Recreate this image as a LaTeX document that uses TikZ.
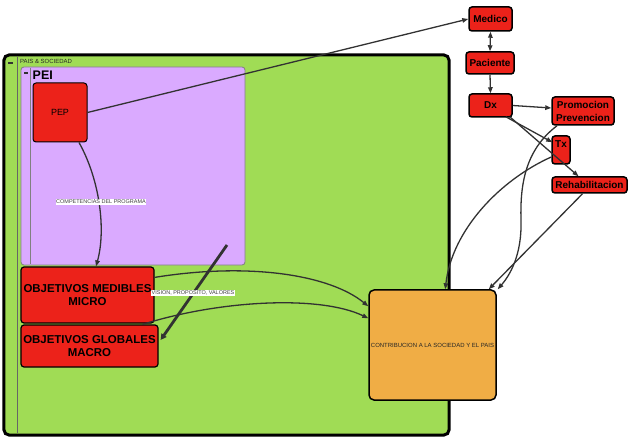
\documentclass[tikz,border=0pt]{standalone}
\usepackage{fontspec}
\setmainfont{Liberation Sans}
\usetikzlibrary{calc,arrows.meta}
\definecolor{gbg}{RGB}{160,220,85}
\definecolor{pbg}{RGB}{218,170,255}
\definecolor{rbg}{RGB}{236,34,26}
\definecolor{obg}{RGB}{240,173,69}
\definecolor{ln}{RGB}{50,50,50}
\tikzset{
  redbox/.style={draw=black, line width=1.5bp, fill=rbg, rounded corners=3bp, inner sep=0pt,
    font=\fontsize{10}{13}\selectfont\bfseries, align=center},
  objbox/.style={draw=black, line width=1.2bp, fill=rbg, rounded corners=3bp, inner sep=0pt,
    font=\fontsize{11.5}{13}\selectfont\bfseries, align=center},
  conn/.style={draw=ln, line width=1.3bp, -{Triangle[length=6bp,width=4.5bp]}},
  biconn/.style={draw=ln, line width=1.3bp, {Triangle[length=6bp,width=4.5bp]}-{Triangle[length=6bp,width=4.5bp]}},
  thickconn/.style={draw=ln, line width=2.8bp, -{Triangle[length=6bp,width=6bp]}},
  lbl/.style={fill=white, inner sep=0.6bp, font=\fontsize{5.5}{6}\selectfont, text=black!75},
  icon/.style={fill=black!80},
}
\begin{document}
\begin{tikzpicture}[x=1bp,y=-1bp]
\useasboundingbox (0,0) rectangle (640,445);
% outer container
\node[draw=black, line width=3bp, fill=gbg, rounded corners=5bp, minimum width=445bp, minimum height=380bp, inner sep=0pt] (pais) at (226.5,245) {};
\draw[black!60, line width=0.7bp] (17,57) -- (17,433);
\fill[icon] (8,62) rectangle (13,64.5);
\node[anchor=west, inner sep=0pt, font=\fontsize{6}{6}\selectfont, text=black!85] (paist) at (20,61) {PAIS \& SOCIEDAD};
% PEI container
\node[draw=black!50, line width=0.8bp, fill=pbg, rounded corners=3bp, minimum width=224bp, minimum height=198bp, inner sep=0pt] (pei) at (133,166) {};
\draw[black!50, line width=0.7bp] (30,68) -- (30,264);
\fill[icon] (24,72) rectangle (28,74.5);
\node[anchor=west, inner sep=0pt, font=\fontsize{12.5}{13}\selectfont\bfseries] (peit) at (32.5,75) {PEI};
% nodes
\node[draw=black, line width=1bp, fill=rbg, rounded corners=3bp, minimum width=54bp, minimum height=59bp, inner sep=0pt, font=\fontsize{9}{10}\selectfont] (pep) at (60,112.5) {PEP};
\node[objbox, minimum width=133bp, minimum height=56bp] (objm) at (87.5,295) {OBJETIVOS MEDIBLES\\MICRO};
\node[objbox, minimum width=137bp, minimum height=42bp] (objg) at (89.5,346) {OBJETIVOS GLOBALES\\MACRO};
\node[draw=black, line width=1.5bp, fill=obg, rounded corners=5bp, minimum width=127bp, minimum height=110bp, inner sep=0pt, font=\fontsize{6}{6}\selectfont, text=black!85] (contrib) at (432.5,345) {CONTRIBUCION A LA SOCIEDAD Y EL PAIS};
\node[redbox, minimum width=43bp, minimum height=24bp] (medico) at (490.5,19) {Medico};
\node[redbox, minimum width=48bp, minimum height=22bp] (paciente) at (490,63) {Paciente};
\node[redbox, minimum width=43bp, minimum height=23bp] (dx) at (490.5,105.5) {Dx};
\node[redbox, minimum width=62bp, minimum height=28bp] (prom) at (583,111) {Promocion\\Prevencion};
\node[redbox, minimum width=18bp, text height=12bp, text depth=16bp] (tx) at (561,150) {Tx};
\node[redbox, minimum width=75bp, minimum height=16bp] (rehab) at (589.5,185) {Rehabilitacion};
% connectors
\draw[conn] (pep.east) -- (medico.west);
\draw[biconn] (medico.south) -- (paciente.north);
\draw[conn] (paciente.south) -- (dx.north);
\draw[conn] (dx.east) -- ($(prom.west)+(0,-3)$);
\draw[conn] ($(dx.south east)+(-7,-1)$) -- ($(tx.north west)+(1,7)$);
\draw[conn] ($(dx.south east)+(-3,-1)$) -- ($(rehab.north)+(-11,0)$);
\draw[conn] ($(tx.west)+(0,7)$) .. controls (500,180) and (452,230) .. ($(contrib.north west)+(77,0)$);
\draw[conn] ($(prom.south)+(-26,0)$) .. controls (525,150) and (520,185) .. (521,220) .. controls (522,255) and (510,275) .. ($(contrib.north east)+(1,0)$);
\draw[conn] ($(rehab.south)+(-7,0)$) -- ($(contrib.north east)+(-8,0)$);
\draw[conn] ($(objm.north east)+(0,11)$) .. controls (250,262) and (330,275) .. ($(contrib.north west)+(0,17)$);
\draw[conn] ($(objg.north east)+(-16,0)$) .. controls (220,300) and (320,295) .. ($(contrib.north west)+(0,29)$);
\draw[conn] ($(pep.south)+(19,0)$) .. controls (100,180) and (106,230) .. ($(objm.north)+(8.5,0)$);
\node[lbl] (lcomp) at (101,202) {COMPETENCIAS DEL PROGRAMA};
\coordinate (vs) at (227,245);
\draw[thickconn] (vs) -- ($(objg.east)+(2,-6)$);
\node[lbl] (lvis) at (193,293) {VISION, PROPOSITO, VALORES};
\end{tikzpicture}
\end{document}
